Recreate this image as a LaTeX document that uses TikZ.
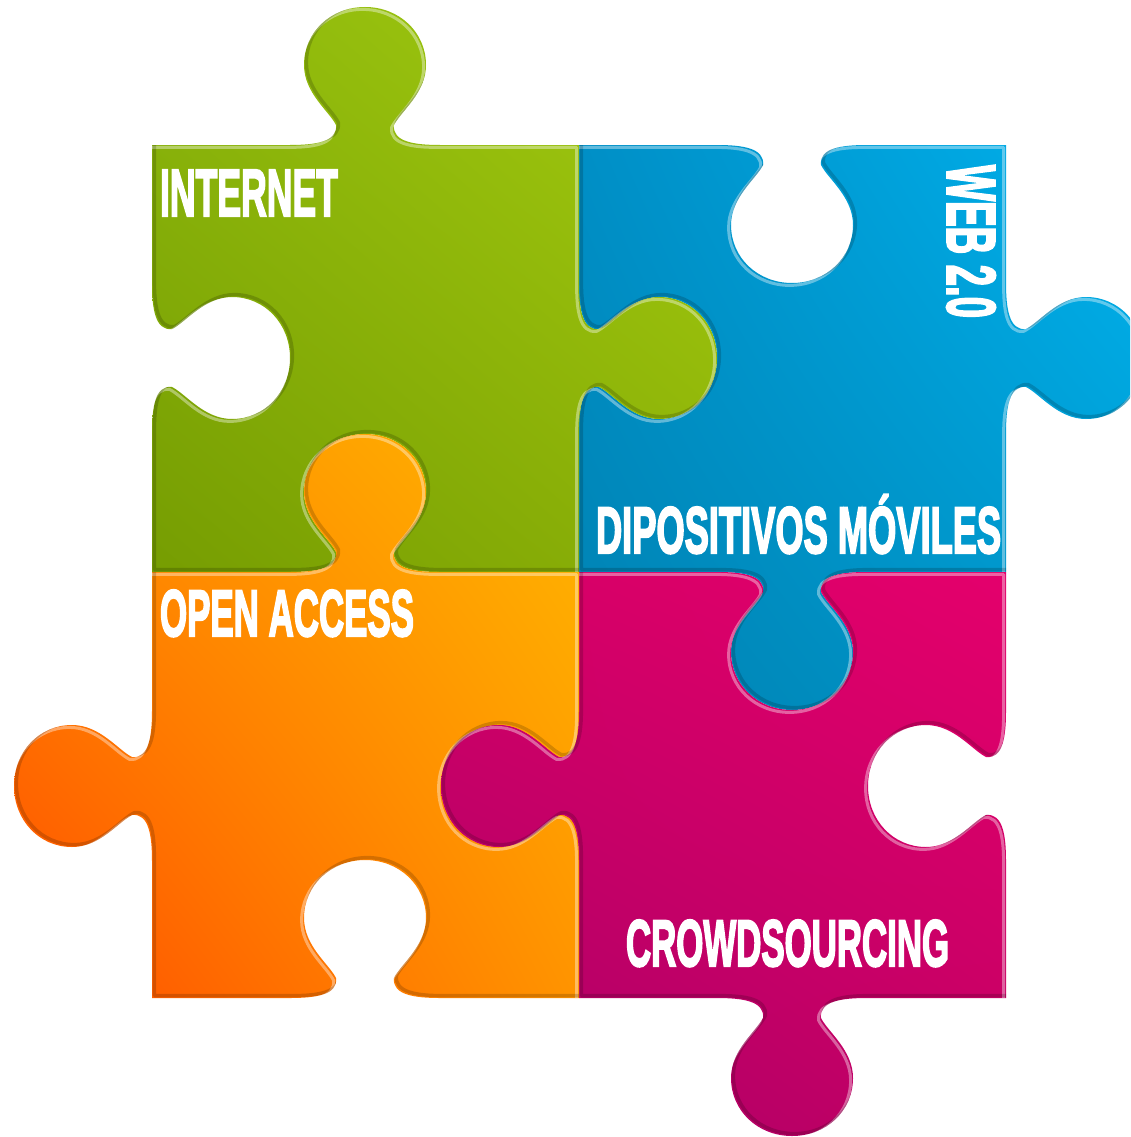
\documentclass[tikz,border=0pt]{standalone}
\usepackage{graphicx}
\usepackage{fontspec}
\usetikzlibrary{shadings}
\newfontfamily\imp[BoldFeatures={FakeBold=3.5}]{Liberation Sans}
\newcommand\XX[5]{#1+(#4)*#2+(#5)*#3}
% one puzzle knob: centre of its base (#1,#2), travel direction (#3,#4), outward normal (#5,#6)
\newcommand\knob[6]{-- ({\XX{#1}{#3}{#5}{-75}{0}},{\XX{#2}{#4}{#6}{-75}{0}})
 .. controls ({\XX{#1}{#3}{#5}{-50}{0}},{\XX{#2}{#4}{#6}{-50}{0}}) and ({\XX{#1}{#3}{#5}{-27}{3}},{\XX{#2}{#4}{#6}{-27}{3}}) .. ({\XX{#1}{#3}{#5}{-29}{20}},{\XX{#2}{#4}{#6}{-29}{20}})
 .. controls ({\XX{#1}{#3}{#5}{-36}{34}},{\XX{#2}{#4}{#6}{-36}{34}}) and ({\XX{#1}{#3}{#5}{-61}{52}},{\XX{#2}{#4}{#6}{-61}{52}}) .. ({\XX{#1}{#3}{#5}{-61}{80}},{\XX{#2}{#4}{#6}{-61}{80}})
 .. controls ({\XX{#1}{#3}{#5}{-61}{113}},{\XX{#2}{#4}{#6}{-61}{113}}) and ({\XX{#1}{#3}{#5}{-34}{138}},{\XX{#2}{#4}{#6}{-34}{138}}) .. ({\XX{#1}{#3}{#5}{0}{138}},{\XX{#2}{#4}{#6}{0}{138}})
 .. controls ({\XX{#1}{#3}{#5}{34}{138}},{\XX{#2}{#4}{#6}{34}{138}}) and ({\XX{#1}{#3}{#5}{61}{113}},{\XX{#2}{#4}{#6}{61}{113}}) .. ({\XX{#1}{#3}{#5}{61}{80}},{\XX{#2}{#4}{#6}{61}{80}})
 .. controls ({\XX{#1}{#3}{#5}{61}{52}},{\XX{#2}{#4}{#6}{61}{52}}) and ({\XX{#1}{#3}{#5}{36}{34}},{\XX{#2}{#4}{#6}{36}{34}}) .. ({\XX{#1}{#3}{#5}{29}{20}},{\XX{#2}{#4}{#6}{29}{20}})
 .. controls ({\XX{#1}{#3}{#5}{27}{3}},{\XX{#2}{#4}{#6}{27}{3}}) and ({\XX{#1}{#3}{#5}{50}{0}},{\XX{#2}{#4}{#6}{50}{0}}) .. ({\XX{#1}{#3}{#5}{75}{0}},{\XX{#2}{#4}{#6}{75}{0}})
}
\newcommand\greenpath{(152,145) \knob{365}{145}{1}{0}{0}{-1} -- (579,145) \knob{579}{358}{0}{1}{1}{0} -- (579,572) \knob{365}{572}{-1}{0}{0}{-1} -- (152,572) \knob{152}{358}{0}{-1}{1}{0} -- cycle}
\newcommand\bluepath{(579,145) \knob{792}{145}{1}{0}{0}{1} -- (1006,145) \knob{1006}{358}{0}{1}{1}{0} -- (1006,572) \knob{792}{572}{-1}{0}{0}{1} -- (579,572) \knob{579}{358}{0}{-1}{1}{0} -- cycle}
\newcommand\orangepath{(152,572) \knob{365}{572}{1}{0}{0}{-1} -- (579,572) \knob{579}{786}{0}{1}{-1}{0} -- (579,998) \knob{365}{998}{-1}{0}{0}{-1} -- (152,998) \knob{152}{786}{0}{-1}{-1}{0} -- cycle}
\newcommand\magentapath{(579,572) \knob{792}{572}{1}{0}{0}{1} -- (1006,572) \knob{1006}{786}{0}{1}{-1}{0} -- (1006,998) \knob{792}{998}{-1}{0}{0}{1} -- (579,998) \knob{579}{786}{0}{-1}{-1}{0} -- cycle}
\newcommand\piece[5]{% path, upper-right, upper-left, lower-left, lower-right colours
 \shade[upper right=#2,upper left=#3,lower left=#4,lower right=#5] #1;
 \begin{scope}
  \clip #1;
  \draw[rimlight,shift={(-2.4,2.4)}] #1;
  \draw[rimdark,shift={(2.4,-2.4)}] #1;
 \end{scope}}
\tikzset{
 rimlight/.style={line width=3pt,line join=round,draw=white,draw opacity=.38},
 rimdark/.style={line width=3.4pt,line join=round,draw=black,draw opacity=.17},
 label/.style={inner sep=0pt,outer sep=0pt,text=white,font=\imp\bfseries}
}
\definecolor{gA}{HTML}{A4CC10}\definecolor{gB}{HTML}{8DB70C}\definecolor{gC}{HTML}{769D02}\definecolor{gE}{HTML}{8DB208}
\definecolor{bA}{HTML}{00B2EE}\definecolor{bB}{HTML}{008FC6}\definecolor{bC}{HTML}{0082B2}\definecolor{bE}{HTML}{0098CC}
\definecolor{oA}{HTML}{FFB600}\definecolor{oB}{HTML}{FF8A00}\definecolor{oC}{HTML}{FF4E00}\definecolor{oE}{HTML}{FF9400}
\definecolor{mA}{HTML}{E4006C}\definecolor{mB}{HTML}{D40066}\definecolor{mC}{HTML}{A80068}\definecolor{mE}{HTML}{C40064}
\begin{document}
\begin{tikzpicture}[x=1pt,y=-1pt]
\useasboundingbox (0,0) rectangle (1130,1137);
\fill[white] (0,0) rectangle (1130,1137);
\begin{scope}
\clip (0,0) rectangle (1130,1137);
\piece{\bluepath}{bA}{bB}{bC}{bE}
\piece{\greenpath}{gA}{gB}{gC}{gE}
\piece{\magentapath}{mA}{mB}{mC}{mE}
\piece{\orangepath}{oA}{oB}{oC}{oE}
% the magenta tab lies over the orange piece
\begin{scope}
 \clip (440,700) rectangle (579,870);
 \piece{\magentapath}{mA}{mB}{mC}{mE}
\end{scope}
\end{scope}
\node[label,anchor=north west] (internet) at (160,170) {\resizebox{178pt}{46pt}{INTERNET}};
\node[label,anchor=north west] (openaccess) at (160,590) {\resizebox{254pt}{46pt}{OPEN ACCESS}};
\node[label,anchor=north west] (moviles) at (596,507) {\resizebox{405pt}{46pt}{DIPOSITIVOS M\smash{Ó}VILES}};
\node[label,anchor=north west] (crowd) at (626,920) {\resizebox{323pt}{46pt}{CROWDSOURCING}};
\node[label,rotate=-90] (web) at (971,241.5) {\resizebox{153pt}{48pt}{WEB 2.0}};
\end{tikzpicture}
\end{document}
